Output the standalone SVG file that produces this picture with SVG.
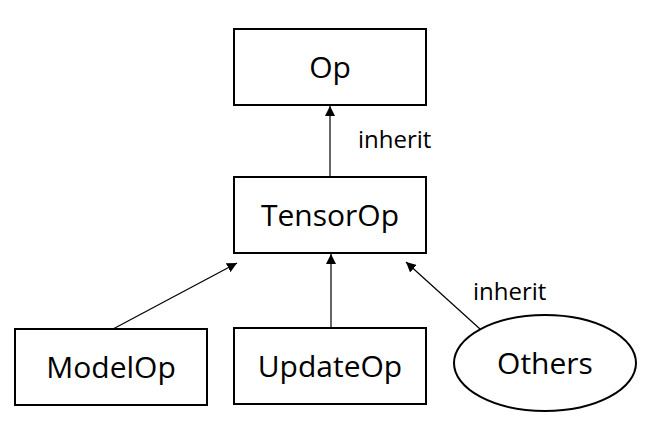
<svg xmlns="http://www.w3.org/2000/svg" width="654" height="433" viewBox="0 0 654 433">
<defs>
<style>
.box{fill:#fff;stroke:#000;stroke-width:2}
.lbl{font-family:"Open Sans","Noto Sans",sans-serif;font-size:30px;fill:#000;text-anchor:middle}
.edge{stroke:#000;stroke-width:1.2;fill:none;marker-end:url(#arr)}
.el{font-family:"Open Sans","Noto Sans",sans-serif;font-size:24px;fill:#000}
</style>
<marker id="arr" viewBox="0 0 10 10" refX="10" refY="5" markerWidth="10" markerHeight="10" markerUnits="userSpaceOnUse" orient="auto">
<path d="M0,0L10,5L0,10z" fill="#000"/>
</marker>
</defs>
<rect width="654" height="433" fill="#fff"/>
<g id="connectors">
<line class="edge" x1="330" y1="177" x2="330" y2="106"/>
<line class="edge" x1="113" y1="329" x2="237" y2="263"/>
<line class="edge" x1="331" y1="328" x2="331" y2="254"/>
<line class="edge" x1="480" y1="329" x2="406" y2="262"/>
<text class="el" x="358" y="148">inherit</text>
<text class="el" x="473" y="300">inherit</text>
</g>
<g id="op"><rect class="box" x="234" y="29" width="192" height="76"/><text class="lbl" x="330" y="78">Op</text></g>
<g id="tensorop"><rect class="box" x="234" y="177" width="192" height="76"/><text class="lbl" x="330" y="226">TensorOp</text></g>
<g id="modelop"><rect class="box" x="15" y="329" width="192" height="76"/><text class="lbl" x="111" y="378">ModelOp</text></g>
<g id="updateop"><rect class="box" x="234" y="328" width="192" height="76"/><text class="lbl" x="330" y="377">UpdateOp</text></g>
<g id="others"><ellipse class="box" cx="545" cy="363" rx="91" ry="48"/><text class="lbl" x="545" y="374">Others</text></g>
</svg>
